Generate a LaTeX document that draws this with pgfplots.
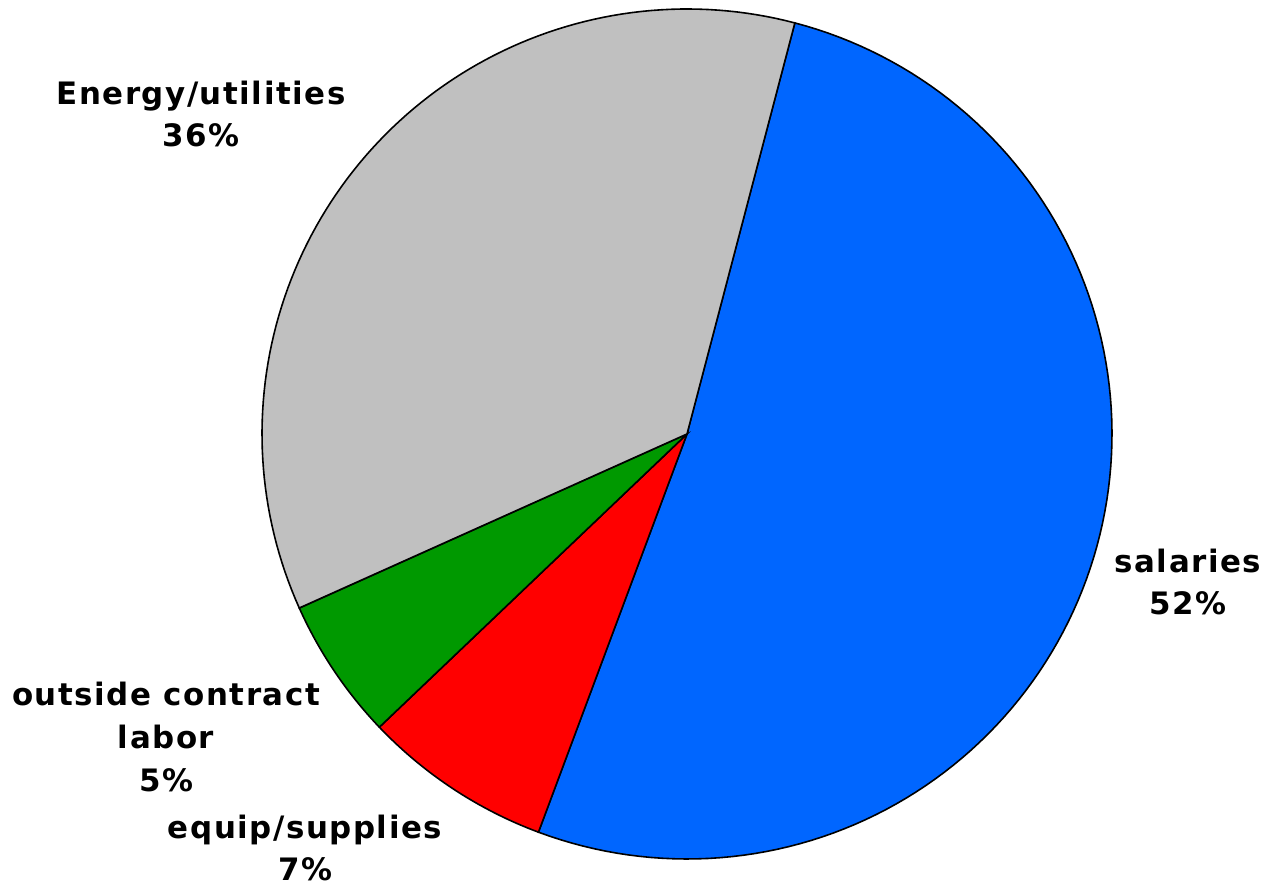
\documentclass[border=0pt]{standalone}
\usepackage{pgfplots}
\pgfplotsset{compat=1.18}
\usepackage{pgfplotstable}
\usepackage{fontspec}
\setmainfont{DejaVu Sans}
\newfontfamily\labfont[LetterSpace=5]{DejaVu Sans}
\definecolor{cblue}{HTML}{0066FF}
\definecolor{cred}{HTML}{FF0000}
\definecolor{cgreen}{HTML}{009900}
\definecolor{cgrey}{HTML}{C0C0C0}
% shares in percent, in clockwise order starting at 75.3 degrees
\pgfplotstableread{
name share
salaries 51.6
equip 7.2
outside 5.4
energy 35.8
}\shares
\begin{document}
\begin{tikzpicture}
\pgfmathsetmacro{\cx}{687}
\pgfmathsetmacro{\cy}{455}
\pgfmathsetmacro{\R}{425}
\pgfmathsetmacro{\start}{75.3}
\pgfplotstablegetelem{0}{share}\of\shares \let\sA\pgfplotsretval
\pgfplotstablegetelem{1}{share}\of\shares \let\sB\pgfplotsretval
\pgfplotstablegetelem{2}{share}\of\shares \let\sC\pgfplotsretval
\pgfplotstablegetelem{3}{share}\of\shares \let\sD\pgfplotsretval
\pgfmathsetmacro{\aA}{\start}
\pgfmathsetmacro{\aB}{\aA-3.6*\sA}
\pgfmathsetmacro{\aC}{\aB-3.6*\sB}
\pgfmathsetmacro{\aD}{\aC-3.6*\sC}
\pgfmathsetmacro{\aE}{\aD-3.6*\sD}
\begin{axis}[
  hide axis,
  scale only axis,
  width=632bp, height=444.5bp,
  xmin=0, xmax=1264, ymin=0, ymax=889,
  clip=false,
  axis line style={draw=none},
]
\addplot[fill=cblue, draw=black, line width=0.8bp, domain=\aB:\aA, samples=120, variable=\t]
  ({\cx+\R*cos(t)},{\cy+\R*sin(t)}) -- (axis cs:\cx,\cy) -- cycle;
\addplot[fill=cred, draw=black, line width=0.8bp, domain=\aC:\aB, samples=30, variable=\t]
  ({\cx+\R*cos(t)},{\cy+\R*sin(t)}) -- (axis cs:\cx,\cy) -- cycle;
\addplot[fill=cgreen, draw=black, line width=0.8bp, domain=\aD:\aC, samples=30, variable=\t]
  ({\cx+\R*cos(t)},{\cy+\R*sin(t)}) -- (axis cs:\cx,\cy) -- cycle;
\addplot[fill=cgrey, draw=black, line width=0.8bp, domain=\aE:\aD, samples=100, variable=\t]
  ({\cx+\R*cos(t)},{\cy+\R*sin(t)}) -- (axis cs:\cx,\cy) -- cycle;
\path (axis cs:0,0) (axis cs:1264,889);
\tikzset{lab/.style={align=center, font=\labfont\fontsize{15.5}{21.5}\selectfont\bfseries, inner sep=0pt}}
\node[lab] at (axis cs:201,775) {Energy/utilities\\36\%};
\node[lab] at (axis cs:1188,307) {salaries\\52\%};
\node[lab] at (axis cs:166,152) {outside contract\\labor\\5\%};
\node[lab] at (axis cs:305,41) {equip/supplies\\7\%};
\end{axis}
\end{tikzpicture}
\end{document}
